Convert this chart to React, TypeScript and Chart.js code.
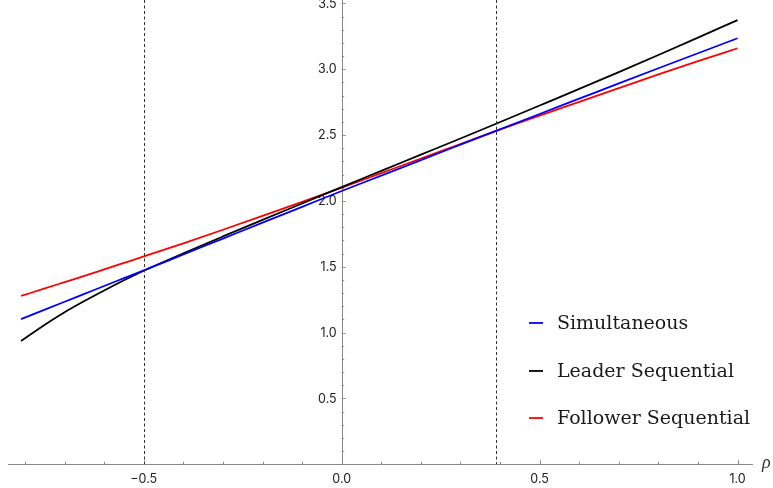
import React, { useEffect, useRef } from "react";
import { Chart, registerables } from "chart.js";

Chart.register(...registerables);

// ρ grid
const rho = [-0.81, -0.75, -0.7, -0.65, -0.6, -0.55, -0.5, -0.4, -0.3, -0.2, -0.1, 0, 0.1, 0.2, 0.3, 0.39, 0.5, 0.6, 0.7, 0.8, 0.9, 1.0];

const simultaneous = [1.102, 1.174, 1.234, 1.294, 1.354, 1.413, 1.472, 1.593, 1.714, 1.835, 1.955, 2.075, 2.192, 2.31, 2.427, 2.532, 2.66, 2.776, 2.892, 3.007, 3.121, 3.235];
const leaderSequential = [0.937, 1.06, 1.155, 1.24, 1.32, 1.397, 1.47, 1.602, 1.73, 1.856, 1.98, 2.105, 2.228, 2.351, 2.474, 2.586, 2.724, 2.85, 2.978, 3.108, 3.24, 3.373];
const followerSequential = [1.278, 1.335, 1.383, 1.431, 1.48, 1.529, 1.578, 1.678, 1.781, 1.886, 1.992, 2.1, 2.211, 2.322, 2.432, 2.532, 2.648, 2.752, 2.856, 2.96, 3.061, 3.159];

const seriesLabels = ["Simultaneous", "Leader Sequential", "Follower Sequential"];
const seriesColors = ["#0000ff", "#000000", "#ff0000"];

const markerRhos = [-0.5, 0.39];

const xMajorTicks = [-0.5, 0, 0.5, 1.0];
const xTickLabels = ["\u22120.5", "0.0", "0.5", "1.0"];
const yMajorTicks = [0.5, 1.0, 1.5, 2.0, 2.5, 3.0, 3.5];
const yTickLabels = ["0.5", "1.0", "1.5", "2.0", "2.5", "3.0", "3.5"];
const xMinorTicks = [-0.8, -0.7, -0.6, -0.4, -0.3, -0.2, -0.1, 0.1, 0.2, 0.3, 0.4, 0.6, 0.7, 0.8, 0.9];
const yMinorTicks = [0.1, 0.2, 0.3, 0.4, 0.6, 0.7, 0.8, 0.9, 1.1, 1.2, 1.3, 1.4, 1.6, 1.7, 1.8, 1.9, 2.1, 2.2, 2.3, 2.4, 2.6, 2.7, 2.8, 2.9, 3.1, 3.2, 3.3, 3.4];

const axisLabel = "\u03c1";

const mathAxesPlugin = {
  id: "mathAxes",
  beforeDatasetsDraw(chart: any) {
    const { ctx, chartArea, scales } = chart;
    const xs = scales.x;
    const ys = scales.y;
    const x0 = xs.getPixelForValue(0);
    const y0 = ys.getPixelForValue(0);
    ctx.save();
    ctx.strokeStyle = "#8a8a8a";
    ctx.lineWidth = 1;
    ctx.beginPath();
    ctx.moveTo(chartArea.left, Math.round(y0) + 0.5);
    ctx.lineTo(chartArea.right, Math.round(y0) + 0.5);
    ctx.moveTo(Math.round(x0) + 0.5, Math.round(y0));
    ctx.lineTo(Math.round(x0) + 0.5, chartArea.top - 1);
    ctx.stroke();
    ctx.beginPath();
    xMajorTicks.forEach((v) => {
      const px = Math.round(xs.getPixelForValue(v)) + 0.5;
      ctx.moveTo(px, y0);
      ctx.lineTo(px, y0 - 4);
    });
    xMinorTicks.forEach((v) => {
      const px = Math.round(xs.getPixelForValue(v)) + 0.5;
      ctx.moveTo(px, y0);
      ctx.lineTo(px, y0 - 2.5);
    });
    yMajorTicks.forEach((v) => {
      const py = Math.round(ys.getPixelForValue(v)) + 0.5;
      ctx.moveTo(x0, py);
      ctx.lineTo(x0 + 4, py);
    });
    yMinorTicks.forEach((v) => {
      const py = Math.round(ys.getPixelForValue(v)) + 0.5;
      ctx.moveTo(x0, py);
      ctx.lineTo(x0 + 2.5, py);
    });
    ctx.stroke();

    ctx.fillStyle = "#222";
    ctx.font = "12.5px Inter, 'DejaVu Sans', sans-serif";
    ctx.textAlign = "center";
    ctx.textBaseline = "top";
    xMajorTicks.forEach((v, i) => {
      ctx.fillText(xTickLabels[i], xs.getPixelForValue(v), y0 + 9);
    });
    ctx.textAlign = "right";
    ctx.textBaseline = "middle";
    yMajorTicks.forEach((v, i) => {
      ctx.fillText(yTickLabels[i], x0 - 5, ys.getPixelForValue(v) + 0.5);
    });

    ctx.fillStyle = "#333";
    ctx.font = "italic 18px 'Liberation Serif', serif";
    ctx.textAlign = "left";
    ctx.textBaseline = "alphabetic";
    ctx.fillText(axisLabel, chartArea.right + 9, y0 + 4);
    ctx.restore();
  },
  afterDatasetsDraw(chart: any) {
    const { ctx, scales } = chart;
    const xs = scales.x;
    const ys = scales.y;
    const y0 = ys.getPixelForValue(0);
    ctx.save();
    ctx.strokeStyle = "#333";
    ctx.lineWidth = 1;
    ctx.setLineDash([3, 2.5]);
    markerRhos.forEach((v) => {
      const px = Math.round(xs.getPixelForValue(v)) + 0.5;
      ctx.beginPath();
      ctx.moveTo(px, 0);
      ctx.lineTo(px, y0);
      ctx.stroke();
    });
    ctx.setLineDash([]);

    const lx = 529;
    const rowY = [323, 371, 418];
    ctx.font = "19px 'DejaVu Serif', serif";
    ctx.textAlign = "left";
    ctx.textBaseline = "middle";
    chart.data.datasets.forEach((ds: any, i: number) => {
      const y = rowY[i];
      ctx.strokeStyle = ds.borderColor;
      ctx.lineWidth = 1.8;
      ctx.beginPath();
      ctx.moveTo(lx, y);
      ctx.lineTo(lx + 14, y);
      ctx.stroke();
      ctx.fillStyle = "#1a1a1a";
      ctx.fillText(ds.label, lx + 28, y + 1);
    });
    ctx.restore();
  },
};

export default function App() {
  const canvasRef = useRef<HTMLCanvasElement | null>(null);

  useEffect(() => {
    if (!canvasRef.current) return;
    const seriesValues = [simultaneous, leaderSequential, followerSequential];
    const chart = new Chart(canvasRef.current, {
      type: "line",
      data: {
        datasets: seriesValues.map((vals, i) => ({
          label: seriesLabels[i],
          data: rho.map((x, j) => ({ x, y: vals[j] })),
          borderColor: seriesColors[i],
          backgroundColor: seriesColors[i],
          borderWidth: 1.8,
          pointRadius: 0,
          cubicInterpolationMode: "monotone" as const,
          fill: false,
        })),
      },
      options: {
        animation: false,
        responsive: false,
        devicePixelRatio: 1,
        layout: { padding: { left: 8, right: 20, top: 0.7, bottom: 23.7 } },
        plugins: { legend: { display: false }, tooltip: { enabled: false } },
        scales: {
          x: { type: "linear", min: -0.843, max: 1.039, display: false },
          y: { type: "linear", min: 0, max: 3.52, display: false },
        },
      },
      plugins: [mathAxesPlugin],
    });
    return () => chart.destroy();
  }, []);

  return (
    <div style={{ position: "fixed", left: 0, top: 0, width: 773, height: 488, background: "#fff" }}>
      <canvas ref={canvasRef} width={773} height={488} style={{ width: 773, height: 488 }} />
    </div>
  );
}
